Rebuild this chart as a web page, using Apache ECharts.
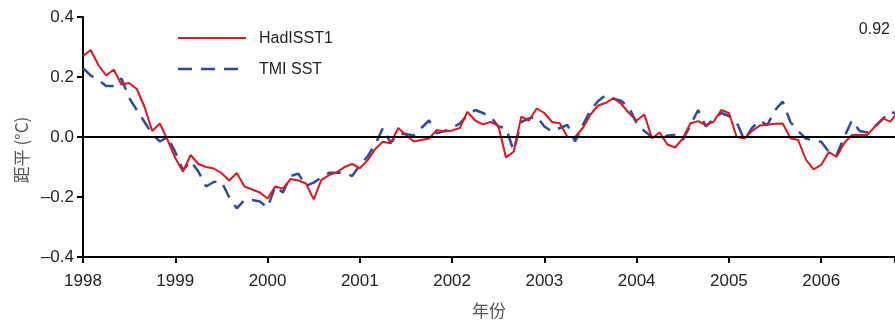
<!DOCTYPE html>
<html>
<head>
<meta charset="utf-8">
<script src="https://cdn.jsdelivr.net/npm/echarts@6/dist/echarts.min.js"></script>
<style>
  html, body { margin: 0; padding: 0; background: #fff; }
  #chart { width: 895px; height: 322px; }
</style>
</head>
<body>
<div id="chart"></div>
<script>
// Monthly SST anomalies (°C), starting January 1998
const startYear = 1998;
const hadisst = [
  0.27, 0.29, 0.24, 0.205, 0.225, 0.175, 0.18, 0.16, 0.10, 0.02, 0.045, -0.01,
  -0.07, -0.115, -0.06, -0.09, -0.10, -0.105, -0.12, -0.145, -0.12, -0.165, -0.175, -0.185,
  -0.205, -0.165, -0.172, -0.14, -0.145, -0.155, -0.208, -0.143, -0.127, -0.118, -0.10, -0.09,
  -0.104, -0.078, -0.04, -0.016, -0.021, 0.03, 0.007, -0.015, -0.01, -0.005, 0.023, 0.018,
  0.022, 0.03, 0.084, 0.055, 0.042, 0.05, 0.038, -0.068, -0.049, 0.068, 0.055, 0.095,
  0.08, 0.05, 0.046, 0.0, 0.0, 0.03, 0.075, 0.105, 0.114, 0.13, 0.11, 0.08,
  0.055, 0.075, -0.004, 0.015, -0.025, -0.035, -0.005, 0.046, 0.053, 0.04, 0.051, 0.09,
  0.08, 0.001, -0.005, 0.02, 0.038, 0.041, 0.044, 0.045, -0.004, -0.01, -0.075, -0.108,
  -0.093, -0.05, -0.066, -0.02, 0.007, 0.007, 0.007, 0.035, 0.062, 0.051, 0.085
];
const tmiSst = [
  0.23, 0.205, 0.19, 0.17, 0.17, 0.195, 0.13, 0.09, 0.05, 0.01, -0.015, 0.0,
  -0.05, -0.11, -0.08, -0.115, -0.165, -0.15, -0.148, -0.2, -0.238, -0.21, -0.21, -0.215,
  -0.235, -0.165, -0.185, -0.13, -0.122, -0.163, -0.152, -0.135, -0.119, -0.119, -0.12, -0.13,
  -0.095, -0.065, -0.025, 0.03, -0.02, 0.01, 0.01, 0.005, 0.03, 0.055, 0.012, 0.02,
  0.03, 0.045, 0.073, 0.09, 0.08, 0.068, 0.035, 0.03, -0.045, 0.05, 0.062, 0.068,
  0.035, 0.018, 0.03, 0.04, -0.015, 0.04, 0.09, 0.12, 0.14, 0.128, 0.12, 0.10,
  0.045, 0.02, 0.0, -0.01, 0.005, 0.007, -0.01, 0.04, 0.09, 0.035, 0.06, 0.08,
  0.07, 0.05, -0.01, 0.03, 0.055, 0.04, 0.09, 0.118, 0.05, 0.02, -0.005, -0.012,
  -0.016, -0.05, -0.06, 0.0, 0.055, 0.02, 0.015, 0.035, 0.06, 0.085, 0.075
];
const seriesNames = ['HadISST1', 'TMI SST'];
const yearTicks = [1998, 1999, 2000, 2001, 2002, 2003, 2004, 2005, 2006];
const yTicks = [-0.4, -0.2, 0.0, 0.2, 0.4];
const corrText = '0.92';
const yTitle = '距平 (°C)';
const xTitle = '年份';

const toPairs = arr => arr.map((v, i) => [startYear + i / 12, v]);
const fmtY = v => (v < 0 ? '\u2013' : '') + Math.abs(v).toFixed(1);

const font = 'Liberation Sans, Arial, sans-serif';
const cjkFont = 'Noto Sans CJK SC, sans-serif';
const redColor = '#e3141b';
const blueColor = '#2b4b9e';
const blueDash = [14, 9];

const chart = echarts.init(document.getElementById('chart'), null, { renderer: 'canvas' });

chart.setOption({
  animation: false,
  backgroundColor: '#fff',
  grid: { left: 83, right: 0, top: 17, bottom: 65, containLabel: false, outerBoundsMode: 'none' },
  xAxis: [{
    type: 'value',
    min: 1998,
    max: 2006.8,
    interval: 1,
    position: 'bottom',
    name: xTitle,
    nameLocation: 'middle',
    nameGap: 45,
    nameTextStyle: { fontFamily: cjkFont, fontSize: 17, color: '#555' },
    axisLine: { show: true, onZero: false, lineStyle: { color: '#000', width: 2 } },
    axisTick: { show: true, length: 6, inside: false, lineStyle: { color: '#000', width: 2 } },
    axisLabel: {
      fontFamily: font, fontSize: 17, color: '#222', margin: 16,
      formatter: v => (yearTicks.includes(v) ? String(v) : '')
    },
    splitLine: { show: false }
  }, {
    type: 'value',
    min: 1998,
    max: 2006.8,
    position: 'top',
    axisLine: { show: true, lineStyle: { color: '#000', width: 2 } },
    axisTick: { show: false },
    axisLabel: { show: false },
    splitLine: { show: false }
  }],
  yAxis: {
    type: 'value',
    min: -0.4,
    max: 0.4,
    interval: 0.2,
    axisLine: { show: true, lineStyle: { color: '#000', width: 2 } },
    axisTick: { show: true, length: 6, lineStyle: { color: '#000', width: 2 } },
    axisLabel: {
      fontFamily: font, fontSize: 17, color: '#222', margin: 9,
      formatter: v => (yTicks.some(t => Math.abs(t - v) < 1e-9) ? fmtY(v) : '')
    },
    splitLine: { show: false }
  },
  graphic: [
    // y-axis title
    {
      type: 'text',
      x: 22, y: 150,
      rotation: Math.PI / 2,
      style: {
        text: yTitle, fontFamily: cjkFont, fontSize: 17, fill: '#555',
        align: 'center', verticalAlign: 'middle'
      }
    },
    // legend
    {
      type: 'line',
      shape: { x1: 178, y1: 38, x2: 246, y2: 38 },
      style: { stroke: redColor, lineWidth: 2 }
    },
    {
      type: 'text',
      x: 259, y: 39,
      style: { text: seriesNames[0], fontFamily: font, fontSize: 16, fill: '#222', verticalAlign: 'middle' }
    },
    {
      type: 'line',
      shape: { x1: 178, y1: 69, x2: 246, y2: 69 },
      style: { stroke: blueColor, lineWidth: 2.5, lineDash: blueDash }
    },
    {
      type: 'text',
      x: 259, y: 70,
      style: { text: seriesNames[1], fontFamily: font, fontSize: 16, fill: '#222', verticalAlign: 'middle' }
    },
    // correlation coefficient
    {
      type: 'text',
      right: 5,
      top: 22,
      style: { text: corrText, fontFamily: font, fontSize: 16, fill: '#222' }
    }
  ],
  series: [{
    name: seriesNames[0],
    type: 'line',
    data: toPairs(hadisst),
    showSymbol: false,
    symbol: 'none',
    clip: true,
    z: 3,
    lineStyle: { color: redColor, width: 2 },
    itemStyle: { color: redColor },
    markLine: {
      silent: true,
      symbol: 'none',
      label: { show: false },
      lineStyle: { color: '#000', width: 2, type: 'solid' },
      data: [{ yAxis: 0 }]
    }
  }, {
    name: seriesNames[1],
    type: 'line',
    data: toPairs(tmiSst),
    showSymbol: false,
    symbol: 'none',
    clip: true,
    z: 2,
    lineStyle: { color: blueColor, width: 2.5, type: blueDash },
    itemStyle: { color: blueColor }
  }]
});
</script>
</body>
</html>
